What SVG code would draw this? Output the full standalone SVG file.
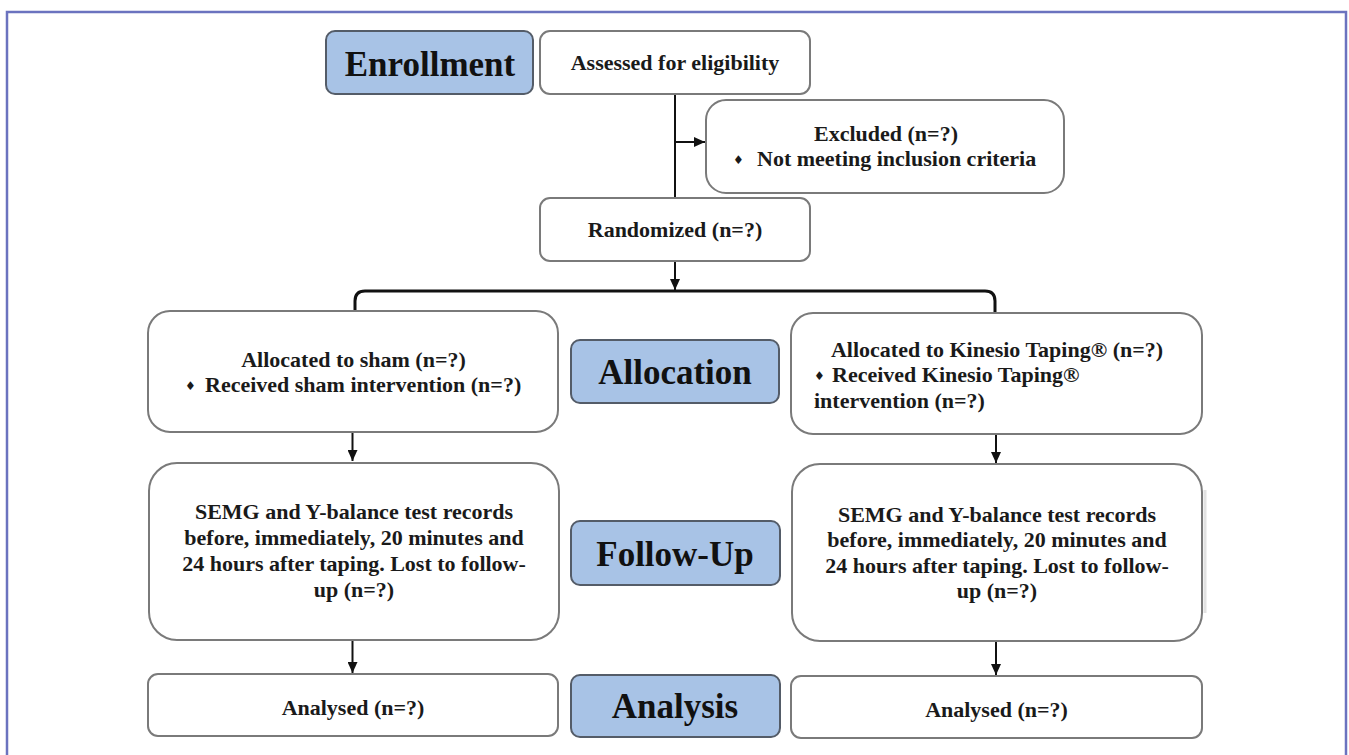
<svg xmlns="http://www.w3.org/2000/svg" width="1349" height="755" viewBox="0 0 1349 755">
<style>
.box{fill:#ffffff;stroke:#7a7a7a;stroke-width:2}
.hdr{fill:#a8c3e6;stroke:#545c68;stroke-width:2}
.t{font-family:"Liberation Serif","Times New Roman",serif;font-weight:bold;font-size:22px;fill:#1a1a1a}
.h{font-family:"Liberation Serif","Times New Roman",serif;font-weight:bold;font-size:35px;fill:#111111;text-anchor:middle}
.c{text-anchor:middle}
.b{font-family:"DejaVu Sans",sans-serif;font-size:12px}
.ln{stroke:#111111;stroke-width:2;fill:none}
</style>
<defs>
<marker id="ah" markerUnits="userSpaceOnUse" markerWidth="12" markerHeight="10" refX="11" refY="5" orient="auto">
<path d="M0,0 L11,5 L0,10 z" fill="#111111"/>
</marker>
</defs>
<rect x="0" y="0" width="1349" height="755" fill="#ffffff"/>
<path d="M7,760 L7,12 L1346,12 L1346,760" fill="none" stroke="#6b73bf" stroke-width="2.5"/>
<rect x="1203.5" y="490" width="3" height="123" fill="#e2e2e2"/>

<g id="connectors">
<line class="ln" x1="675" y1="94" x2="675" y2="198"/>
<line class="ln" x1="675" y1="142" x2="705" y2="142" marker-end="url(#ah)"/>
<line class="ln" x1="675" y1="261" x2="675" y2="290" marker-end="url(#ah)"/>
<path d="M355,312 L355,301 Q355,291 365,291 L985,291 Q995,291 995,301 L995,313" fill="none" stroke="#111111" stroke-width="3"/>
<line class="ln" x1="352.5" y1="432" x2="352.5" y2="461" marker-end="url(#ah)"/>
<line class="ln" x1="996" y1="434" x2="996" y2="463" marker-end="url(#ah)"/>
<line class="ln" x1="352.5" y1="640" x2="352.5" y2="673" marker-end="url(#ah)"/>
<line class="ln" x1="996" y1="642" x2="996" y2="675" marker-end="url(#ah)"/>
</g>

<g id="enrollment">
<rect class="hdr" x="326" y="31" width="207" height="63" rx="9"/>
<text class="h" x="430" y="76">Enrollment</text>
</g>
<g id="assessed">
<rect class="box" x="540" y="31" width="270" height="63" rx="10"/>
<text class="t c" x="675" y="70">Assessed for eligibility</text>
</g>
<g id="excluded">
<rect class="box" x="706" y="100" width="358" height="93" rx="20"/>
<text class="t c" x="886" y="141">Excluded (n=?)</text>
<text class="t"><tspan class="b" x="733" y="164">♦</tspan><tspan x="757" y="166">Not meeting inclusion criteria</tspan></text>
</g>
<g id="randomized">
<rect class="box" x="540" y="198" width="270" height="63" rx="10"/>
<text class="t c" x="675" y="237">Randomized (n=?)</text>
</g>
<g id="alloc-sham">
<rect class="box" x="148" y="311" width="410" height="121" rx="22"/>
<text class="t c" x="353.5" y="367">Allocated to sham (n=?)</text>
<text class="t"><tspan class="b" x="185" y="390">♦</tspan><tspan x="205" y="392">Received sham intervention (n=?)</tspan></text>
</g>
<g id="allocation">
<rect class="hdr" x="571" y="340" width="208" height="63" rx="9"/>
<text class="h" x="675" y="384">Allocation</text>
</g>
<g id="alloc-kt">
<rect class="box" x="791" y="313" width="411" height="121" rx="22"/>
<text class="t c" x="997" y="357">Allocated to Kinesio Taping® (n=?)</text>
<text class="t"><tspan class="b" x="814" y="380">♦</tspan><tspan x="832" y="382">Received Kinesio Taping®</tspan></text>
<text class="t" x="814" y="408">intervention (n=?)</text>
</g>
<g id="followup-sham">
<rect class="box" x="149" y="463" width="410" height="177" rx="28"/>
<text class="t c" x="354" y="519">SEMG and Y-balance test records</text>
<text class="t c" x="354" y="545">before, immediately, 20 minutes and</text>
<text class="t c" x="354" y="571">24 hours after taping. Lost to follow-</text>
<text class="t c" x="354" y="597">up (n=?)</text>
</g>
<g id="followup">
<rect class="hdr" x="571" y="521" width="209" height="64" rx="9"/>
<text class="h" x="675" y="566">Follow-Up</text>
</g>
<g id="followup-kt">
<rect class="box" x="792" y="464" width="410" height="177" rx="28"/>
<text class="t c" x="997" y="522">SEMG and Y-balance test records</text>
<text class="t c" x="997" y="547">before, immediately, 20 minutes and</text>
<text class="t c" x="997" y="573">24 hours after taping. Lost to follow-</text>
<text class="t c" x="997" y="598">up (n=?)</text>
</g>
<g id="analysed-sham">
<rect class="box" x="148" y="674" width="410" height="62" rx="10"/>
<text class="t c" x="353" y="715">Analysed (n=?)</text>
</g>
<g id="analysis">
<rect class="hdr" x="571" y="675" width="209" height="62" rx="9"/>
<text class="h" x="675" y="718">Analysis</text>
</g>
<g id="analysed-kt">
<rect class="box" x="791" y="676" width="411" height="62" rx="10"/>
<text class="t c" x="996.5" y="717">Analysed (n=?)</text>
</g>
</svg>
